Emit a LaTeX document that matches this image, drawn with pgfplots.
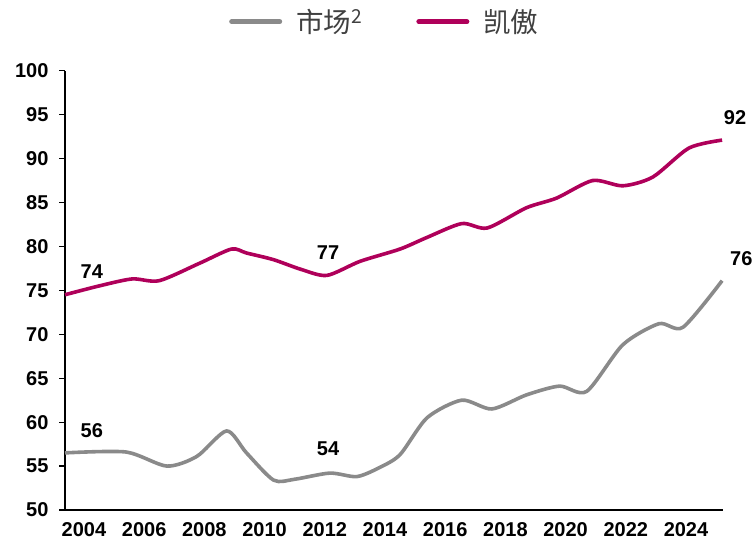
\documentclass[border=0pt]{standalone}
\usepackage{fontspec}
\setmainfont{Liberation Sans}
\newfontfamily\cjk{Noto Sans CJK SC}
\usepackage{pgfplots}
\pgfplotsset{compat=1.18}
\definecolor{kion}{RGB}{175,0,90}
\definecolor{mkt}{RGB}{138,138,138}
\definecolor{legtext}{RGB}{64,64,64}
\begin{document}
\begin{tikzpicture}
\path[use as bounding box] (-65pt,-31pt) rectangle (691pt,510pt);
\begin{axis}[
  at={(0,0)}, anchor=south west,
  scale only axis, width=658pt, height=439.3pt,
  xmin=2003.37, xmax=2025.23, ymin=50, ymax=100,
  axis lines=left, axis line style={black, line width=1.5pt, -},
  xtick={2004,2006,...,2024},
  ytick={50,55,...,100},
  xtick style={draw=none},
  ytick style={black, line width=1.2pt},
  tick align=outside, major tick length=6pt,
  /pgf/number format/assume math mode=true,
  /pgf/number format/1000 sep={},
  ticklabel style={font=\bfseries\fontsize{20}{20}\selectfont, black},
  yticklabel style={xshift=-7pt},
  xticklabel style={yshift=-3pt},
  clip=false,
  legend style={draw=none, fill=none, at={(axis description cs:0.486,1)}, anchor=center, yshift=49pt,
    font=\cjk\fontsize{27.5}{29}\selectfont\color{legtext}, legend columns=2,
    /tikz/every odd column/.append style={column sep=12pt},
    /tikz/every even column/.append style={column sep=52pt}},
  legend image code/.code={\draw[#1, line width=5pt, line cap=round] (0pt,0pt) -- (48pt,0pt);},
]
\addplot[mkt, line width=3.6pt, smooth, tension=0.45] coordinates {
(2003.37,56.5) (2005.4,56.6) (2006.75,55.0) (2007.75,56.1) (2008.74,59.0) (2009.4,56.5) (2010.3,53.4)
(2011.0,53.5) (2012.17,54.2) (2013.06,53.8) (2013.8,54.8) (2014.5,56.3) (2015.4,60.5) (2016.55,62.5)
(2017.55,61.5) (2018.7,63.1) (2019.8,64.1) (2020.7,63.5) (2021.9,68.8) (2023.1,71.2) (2023.9,70.8) (2025.2,76.1)
};
\addlegendentry{市场\textsuperscript{2}}
\addplot[kion, line width=3.6pt, smooth, tension=0.45] coordinates {
(2003.37,74.5) (2004.5,75.5) (2005.6,76.3) (2006.5,76.1) (2007.85,78.1) (2008.9,79.7) (2009.4,79.25)
(2010.29,78.5) (2011.2,77.4) (2012.07,76.7) (2013.17,78.3) (2014.5,79.7) (2015.38,81.0) (2016.55,82.6)
(2017.4,82.1) (2018.7,84.4) (2019.7,85.5) (2020.9,87.5) (2021.9,86.9) (2022.9,87.9) (2024.1,91.2) (2025.2,92.1)
};
\addlegendentry{凯傲}
\begin{scope}[every node/.style={font=\bfseries\fontsize{20}{20}\selectfont, black}]
\node at (axis cs:2004.26,77.09) {74};
\node at (axis cs:2004.26,59.07) {56};
\node at (axis cs:2012.11,79.34) {77};
\node at (axis cs:2012.11,56.92) {54};
\node at (axis cs:2025.63,94.64) {92};
\node at (axis cs:2025.84,78.65) {76};
\end{scope}
\end{axis}
\end{tikzpicture}
\end{document}
